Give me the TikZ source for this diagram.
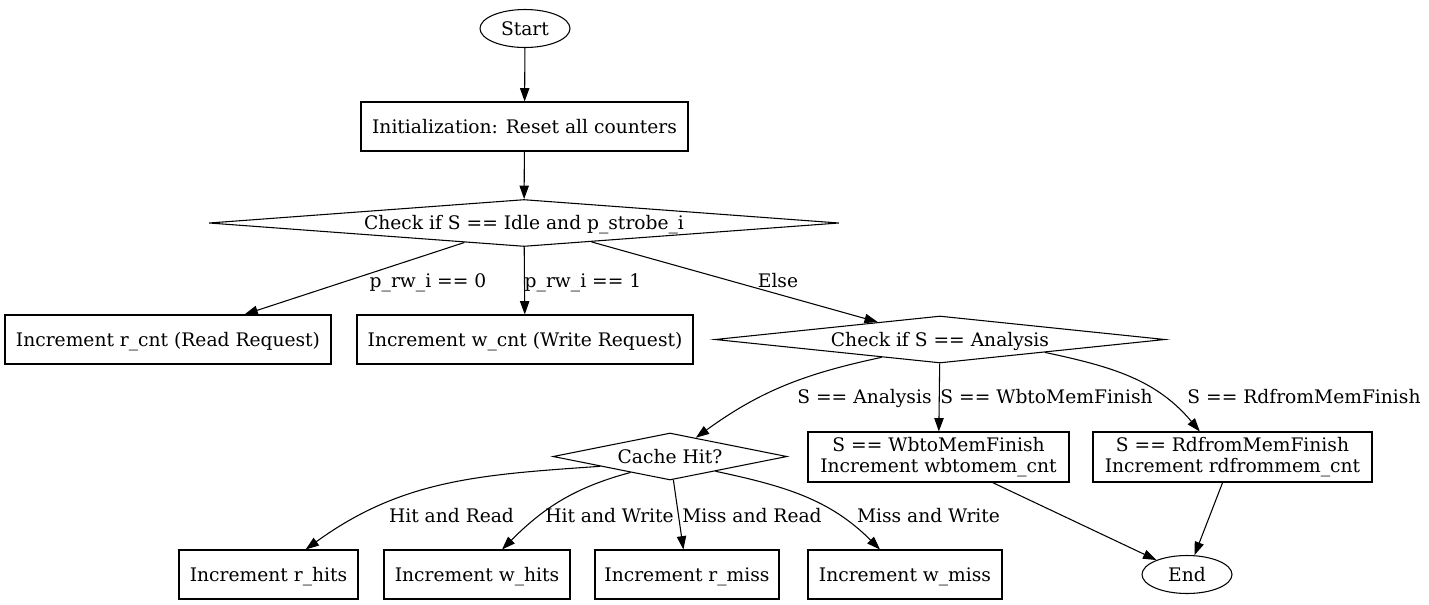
\documentclass[tikz,border=0pt]{standalone}
\usepackage{fontspec}
\setmainfont{DejaVu Serif}
\usetikzlibrary{shapes.geometric,arrows.meta}
\begin{document}
\begin{tikzpicture}[x=0.75pt,y=0.75pt,
  every node/.style={font=\fontsize{14pt}{15.75pt}\selectfont},
  box/.style={draw, rectangle, inner sep=0pt, minimum height=36.75pt, text height=10.2pt, text depth=0pt},
  boxtwo/.style={draw, rectangle, inner sep=0pt, minimum height=37.5pt, align=center},
  oval/.style={draw, ellipse, inner sep=0pt, minimum width=67.5pt, minimum height=28.5pt, text height=10.2pt, text depth=0pt},
  dia/.style={draw, diamond, inner sep=0pt, minimum height=35.25pt, text height=10.2pt, text depth=0pt},
  lbl/.style={inner sep=0pt, text height=10.2pt, text depth=0pt},
  arr/.style={-{Triangle[length=10pt,width=7pt]}},
  line width=0.8pt]
\useasboundingbox (0,0) rectangle (1429,-604);

\node[oval] (start) at (525,-28.5) {Start};
\node[box, minimum width=245.25pt] (init) at (524.5,-126.5) {Initialization: Reset all counters};
\node[dia, minimum width=472.5pt, aspect=13.4] (d1) at (524,-223) {Check if S == Idle and p\_strobe\_i};
\node[box, minimum width=244.5pt] (rcnt) at (168,-339.5) {Increment r\_cnt (Read Request)};
\node[box, minimum width=252pt] (wcnt) at (525,-339.5) {Increment w\_cnt (Write Request)};
\node[dia, minimum width=337.5pt, aspect=9.6] (d2) at (940,-339.5) {Check if S == Analysis};
\node[dia, minimum width=175.5pt, aspect=5] (cache) at (670,-456.5) {Cache Hit?};
\node[boxtwo, minimum width=195.75pt] (wb) at (938.5,-457) {S == WbtoMemFinish\\Increment wbtomem\_cnt};
\node[boxtwo, minimum width=209.25pt] (rd) at (1232.5,-457) {S == RdfromMemFinish\\Increment rdfrommem\_cnt};
\node[box, minimum width=134.25pt] (rhits) at (268.5,-574.5) {Increment r\_hits};
\node[box, minimum width=139.5pt] (whits) at (477,-574.5) {Increment w\_hits};
\node[box, minimum width=138pt] (rmiss) at (687,-574.5) {Increment r\_miss};
\node[box, minimum width=145.5pt] (wmiss) at (905,-574.5) {Increment w\_miss};
\node[oval] (end) at (1187,-574.5) {End};

\draw[arr] (start) -- (init);
\draw[arr] (init) -- (d1);
\draw[arr] (d1) -- (rcnt);
\draw[arr] (d1) -- (wcnt);
\draw[arr] (d1) -- (d2);
\draw[arr] (d2.197) to[out=192,in=36] (cache);
\draw[arr] (d2) -- (wb);
\draw[arr] (d2.-7) to[out=-12,in=130] (rd.142);
\draw[arr] (cache.188) to[out=184,in=36] (rhits.34);
\draw[arr] (cache.202) to[out=195,in=45] (whits);
\draw[arr] (cache) -- (rmiss);
\draw[arr] (cache.-18) to[out=-12,in=135] (wmiss);
\draw[arr] (wb) -- (end);
\draw[arr] (rd) -- (end);

\node[lbl] (l1) at (428,-281) {p\_rw\_i == 0};
\node[lbl] (l2) at (583,-281) {p\_rw\_i == 1};
\node[lbl] (l3) at (778,-281) {Else};
\node[lbl] (l4) at (864.5,-397) {S == Analysis};
\node[lbl] (l5) at (1046.5,-397) {S == WbtoMemFinish};
\node[lbl] (l6) at (1304,-397) {S == RdfromMemFinish};
\node[lbl] (l7) at (451.5,-516) {Hit and Read};
\node[lbl] (l8) at (609.5,-516) {Hit and Write};
\node[lbl] (l9) at (752,-516) {Miss and Read};
\node[lbl] (l10) at (928.5,-516) {Miss and Write};
\end{tikzpicture}
\end{document}
